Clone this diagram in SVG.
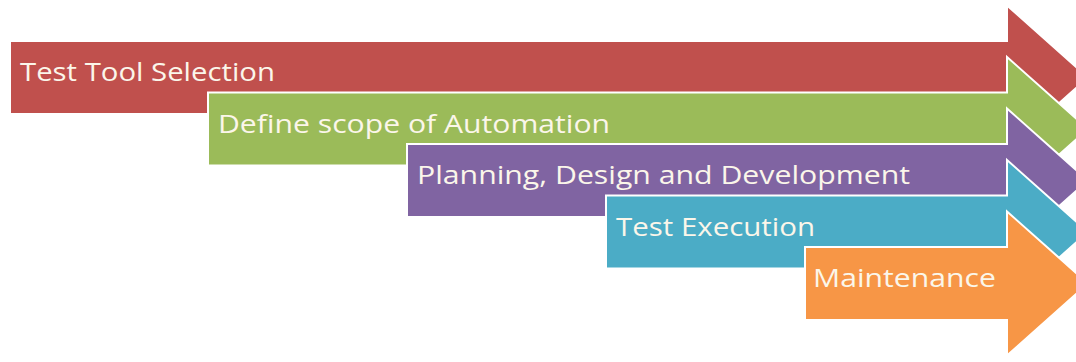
<svg xmlns="http://www.w3.org/2000/svg" width="1076" height="362" viewBox="0 0 1076 362">
<style>
.arr{stroke:#ffffff;stroke-width:2;stroke-linejoin:miter}
.lbl{font-family:"Open Sans","Liberation Sans",sans-serif;font-size:26px;fill:#fbf6ea}
</style>
<rect width="1076" height="362" fill="#ffffff"/>
<g id="step1">
<path class="arr" fill="#C0504D" d="M10,41 H1007 V5.5 L1088,77.5 L1007,149.5 V114 H10 Z"/>
<text class="lbl" x="20" y="81" textLength="255" lengthAdjust="spacingAndGlyphs">Test Tool Selection</text>
</g>
<g id="step2">
<path class="arr" fill="#9BBB59" d="M208,92.5 H1007 V57 L1088,129 L1007,201 V165.5 H208 Z"/>
<text class="lbl" x="218" y="132.5" textLength="392" lengthAdjust="spacingAndGlyphs">Define scope of Automation</text>
</g>
<g id="step3">
<path class="arr" fill="#8064A2" d="M407,144 H1007 V108.5 L1088,180.5 L1007,252.5 V217 H407 Z"/>
<text class="lbl" x="417" y="184" textLength="493" lengthAdjust="spacingAndGlyphs">Planning, Design and Development</text>
</g>
<g id="step4">
<path class="arr" fill="#4BACC6" d="M606,195.5 H1007 V160 L1088,232 L1007,304 V268.5 H606 Z"/>
<text class="lbl" x="616" y="235.5" textLength="199" lengthAdjust="spacingAndGlyphs">Test Execution</text>
</g>
<g id="step5">
<path class="arr" fill="#F79646" d="M805,247 H1007 V211.5 L1088,283.5 L1007,355.5 V320 H805 Z"/>
<text class="lbl" x="813" y="287" textLength="183" lengthAdjust="spacingAndGlyphs">Maintenance</text>
</g>
<g id="connectors"/>
</svg>
